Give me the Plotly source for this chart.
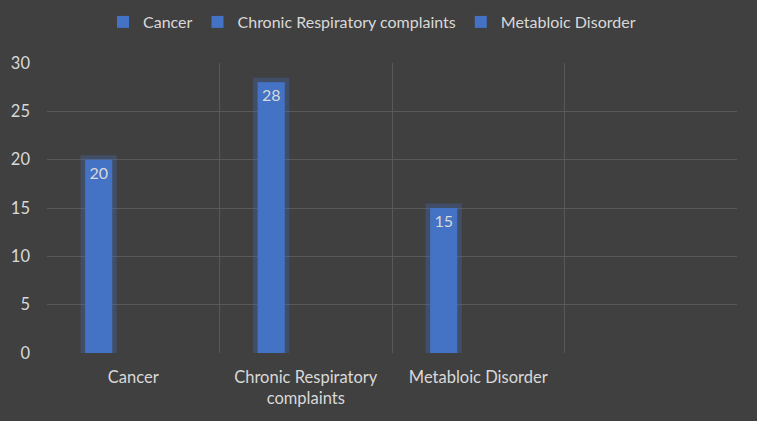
import plotly.graph_objects as go

categories = ["Cancer", "Chronic Respiratory<br>complaints", "Metabloic Disorder", " "]
series_names = ["Cancer", "Chronic Respiratory complaints", "Metabloic Disorder"]
values = [20, 28, 15]
y_ticks = [0, 5, 10, 15, 20, 25, 30]

BLUE = "#4472C4"
TEXT = "#D9D9D9"
BG = "#404040"
GRID = "#595959"
FONT = "Lato, 'Open Sans', sans-serif"

BAR_W, BAR_OFF = 0.157, -0.279

fig = go.Figure()
for name, cat, val in zip(series_names, categories, values):
    fig.add_trace(go.Bar(
        x=[cat], y=[val], width=BAR_W, offset=BAR_OFF,
        marker=dict(color="rgba(68,114,196,0.3)",
                    line=dict(color="rgba(68,114,196,0.3)", width=9)),
        showlegend=False, hoverinfo="skip",
    ))
for name, cat, val in zip(series_names, categories, values):
    fig.add_trace(go.Bar(
        name=name, x=[cat], y=[val],
        width=BAR_W, offset=BAR_OFF,
        marker=dict(color=BLUE, line=dict(width=0)),
        text=[str(val)], textposition="inside", insidetextanchor="end",
        textfont=dict(color=TEXT, size=16, family=FONT),
    ))

W, H = 760, 424
l, r, t, b = 47, 23, 63, 71
pw, ph = W - l - r, H - t - b
fig.add_shape(type="rect", xref="paper", yref="paper", layer="below",
              x0=-l / pw, x1=(757 - l) / pw, y0=(t + ph - 421) / ph, y1=(t + ph) / ph,
              fillcolor=BG, line=dict(width=0))

fig.update_layout(
    width=W, height=H, margin=dict(l=l, r=r, t=t, b=b, autoexpand=False),
    paper_bgcolor="white", plot_bgcolor="rgba(0,0,0,0)",
    barmode="overlay", showlegend=True,
    font=dict(family=FONT, color=TEXT, size=16.5),
    legend=dict(orientation="h", x=(380 - 8 - l) / pw, xanchor="center",
                y=(t + ph - 22) / ph, yanchor="middle",
                font=dict(size=16, color=TEXT, family=FONT),
                bgcolor="rgba(0,0,0,0)", traceorder="normal"),
    xaxis=dict(type="category", categoryorder="array", categoryarray=categories,
               range=[-0.5, 3.5], tickson="boundaries", showgrid=True, gridcolor=GRID,
               gridwidth=1, ticks="", showline=False, zeroline=False,
               tickfont=dict(size=16.5, color=TEXT, family=FONT), ticklabelstandoff=12),
    yaxis=dict(range=[0, 30], tickvals=y_ticks, showgrid=True, gridcolor=GRID, gridwidth=1,
               zeroline=False, showline=False, ticks="",
               tickfont=dict(size=16.5, color=TEXT, family=FONT), ticklabelstandoff=16),
)

fig.write_html("out.html", config={"displayModeBar": False},
               post_script="document.body.style.margin='0';")
